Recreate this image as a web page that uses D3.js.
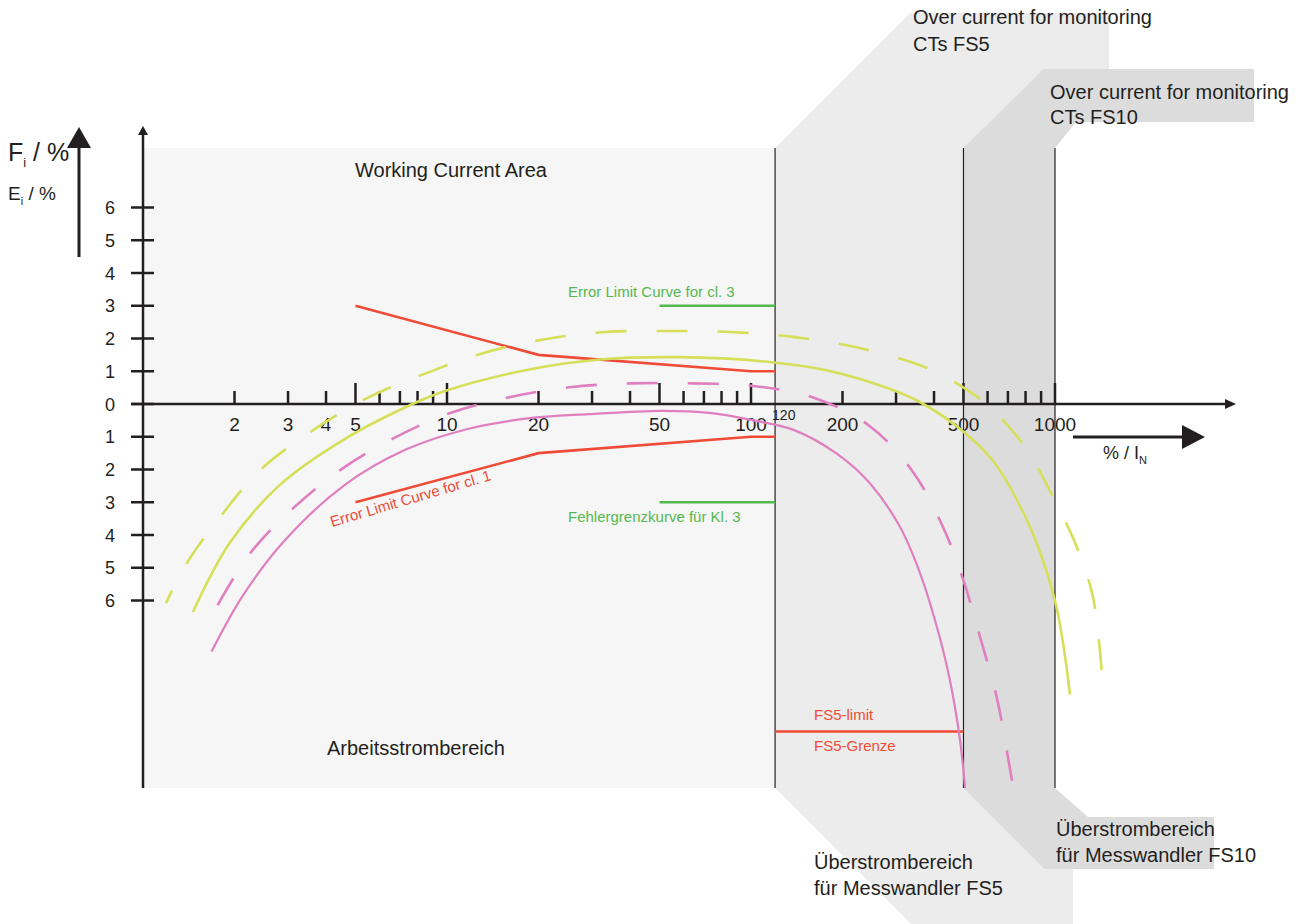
<!DOCTYPE html>
<html><head><meta charset="utf-8">
<script src="https://cdn.jsdelivr.net/npm/d3@7"></script>
<style>
body{margin:0;background:#fff}
svg{display:block}
text{font-family:"Liberation Sans",Arial,Helvetica,sans-serif}
</style>
</head><body>
<svg id="c" width="1307" height="924"></svg>
<script>
// ---------- data ----------
const xLabelTicks = [2,3,4,5,10,20,50,100,200,500,1000];
const xLabelTexts = ["2","3","4","5","10","20","50","100","200","500","1000"];
const xTallTicks = [5,10,50,100,500,1000];
const xShortTicks = [2,3,4,6,7,8,9,20,30,40,60,70,80,90,200,300,400,600,700,800,900];
const yTicks = [6,5,4,3,2,1,0,-1,-2,-3,-4,-5,-6];
const yTickTexts = ["6","5","4","3","2","1","0","1","2","3","4","5","6"];
const bandEdges = [120,500,1000];
const cl1Current = [5,20,100,120];
const cl1Upper = [3,1.5,1,1];
const cl1Lower = [-3,-1.5,-1,-1];
const cl3Current = [50,120];
const cl3Upper = [3,3];
const cl3Lower = [-3,-3];
const fs5Current = [120,500];
const fs5Limit = [-10,-10];
// [current % of In, error %]
const yellowSolid = [[1.46,-6.35],[1.93,-4.24],[2.82,-2.47],[4.55,-1.1],[7.7,0],[9.85,0.4],[19,1.07],[32,1.36],[58,1.43],[113,1.29],[177,1.03],[294,0.42],[369,0],[499,-0.84],[627,-1.75],[767,-3.11],[893,-4.52],[1002,-6.04],[1065,-7.35],[1120,-8.87]];
const yellowDashed = [[1.19,-6.08],[1.395,-4.85],[1.846,-3.3],[2.426,-2.02],[3.68,-0.76],[5.54,0.21],[8.6,0.95],[13.2,1.56],[21,1.98],[33.3,2.2],[53.3,2.23],[85.3,2.2],[137,2.05],[228,1.71],[379,1.1],[514,0.43],[625,-0.18],[809,-1.4],[985,-2.84],[1180,-4.37],[1333,-5.89],[1428,-8.27]];
const pinkSolid = [[1.68,-7.56],[2.12,-5.88],[2.89,-4.22],[4.58,-2.49],[7.29,-1.4],[11.6,-0.77],[18.4,-0.44],[29.3,-0.31],[51,-0.21],[74,-0.28],[107,-0.54],[138,-0.79],[191,-1.51],[246,-2.42],[309,-3.75],[360,-5.17],[408,-6.78],[451,-8.43],[487,-10.26],[506,-11.73]];
const pinkDashed = [[1.76,-6.14],[2.25,-4.56],[3.12,-3.18],[4.45,-2.02],[6.66,-1.05],[10.2,-0.28],[15.9,0.2],[25.3,0.51],[40,0.63],[63.8,0.63],[102,0.55],[160,0.2],[243,-0.64],[338,-2.02],[424,-3.67],[499,-5.37],[567,-7.12],[643,-8.95],[702,-10.84],[729,-11.73]];

// ---------- styles ----------
const INK = "#231f20", YEL = "#d6df5a", PINK = "#df7fc0", RED = "#ef4b36", GREEN = "#55b84f";
const svg = d3.select("#c");
const x = d3.scaleLog().domain([1,1000]).range([143,1055]);
const y = d3.scaleLinear().domain([0,6]).range([404,207.5]);
const plotTop = 148, plotBottom = 788;
const x0 = x(bandEdges[0]), x1 = x(bandEdges[1]), x2 = x(bandEdges[2]);

// ---------- areas ----------
svg.append("rect").attr("x",143).attr("y",plotTop).attr("width",x0-143).attr("height",plotBottom-plotTop).attr("fill","#f6f6f6");
svg.append("polygon").attr("fill","#ececec").attr("points",[
 [x0,plotTop],[x0+135,13],[1109,13],[1109,69],[x1,plotTop],[x1,plotBottom],[1073,862],[1073,924],[x0+136,924],[x0,plotBottom]
].map(p=>p.join(",")).join(" "));
svg.append("polygon").attr("fill","#dcdcdd").attr("points",[
 [x1,plotTop],[x1+80,69],[1254,69],[1254,122],[1076,122],[x2,plotTop],[x2,plotBottom],[1088,817],[1214,817],[1214,869],[x1+81,869],[x1,plotBottom]
].map(p=>p.join(",")).join(" "));
bandEdges.forEach(v=>svg.append("line").attr("x1",x(v)).attr("x2",x(v)).attr("y1",plotTop).attr("y2",plotBottom).attr("stroke",INK).attr("stroke-width",1.2));

// ---------- axes ----------
const ax = svg.append("g").attr("stroke",INK).attr("stroke-width",2.5);
ax.append("line").attr("x1",143).attr("x2",143).attr("y1",plotBottom).attr("y2",133);
ax.append("line").attr("x1",131).attr("x2",1228).attr("y1",y(0)).attr("y2",y(0));
svg.append("polygon").attr("fill",INK).attr("points","138,135 148,135 143,126");
svg.append("polygon").attr("fill",INK).attr("points","1225,399 1225,409 1236,404");
yTicks.forEach(v=>ax.append("line").attr("x1",131).attr("x2",154).attr("y1",y(v)).attr("y2",y(v)));
xShortTicks.forEach(v=>ax.append("line").attr("x1",x(v)).attr("x2",x(v)).attr("y1",y(0)).attr("y2",y(0)-13));
xTallTicks.forEach(v=>ax.append("line").attr("x1",x(v)).attr("x2",x(v)).attr("y1",y(0)).attr("y2",y(0)-21));
yTicks.forEach((v,i)=>svg.append("text").attr("x",115).attr("y",y(v)+6.5).attr("text-anchor","end").attr("font-size",18).attr("fill",INK).text(yTickTexts[i]));
xLabelTicks.forEach((v,i)=>svg.append("text").attr("x",x(v)).attr("y",431).attr("text-anchor","middle").attr("font-size",19).attr("fill",INK).text(xLabelTexts[i]));
svg.append("text").attr("x",x0-3).attr("y",420).attr("font-size",14).attr("fill",INK).text("120");

// big arrows
svg.append("line").attr("x1",79).attr("x2",79).attr("y1",257).attr("y2",146).attr("stroke",INK).attr("stroke-width",3);
svg.append("polygon").attr("fill",INK).attr("points","67,148 91,148 79,127");
svg.append("line").attr("x1",1073).attr("x2",1185).attr("y1",437).attr("y2",437).attr("stroke",INK).attr("stroke-width",3);
svg.append("polygon").attr("fill",INK).attr("points","1182,425 1182,449 1205,437");

// axis titles
const t1 = svg.append("text").attr("x",8).attr("y",161).attr("font-size",25).attr("fill",INK);
t1.append("tspan").text("F");
t1.append("tspan").attr("font-size",13).attr("dy",6).text("i");
t1.append("tspan").attr("dy",-6).text(" / %");
const t2 = svg.append("text").attr("x",8).attr("y",200).attr("font-size",19).attr("fill",INK);
t2.append("tspan").text("E");
t2.append("tspan").attr("font-size",11).attr("dy",5).text("i");
t2.append("tspan").attr("dy",-5).text(" / %");
const t3 = svg.append("text").attr("x",1103).attr("y",459).attr("font-size",18).attr("fill",INK);
t3.append("tspan").text("% / I");
t3.append("tspan").attr("font-size",11).attr("dy",5).text("N");

// ---------- limit lines ----------
const line = d3.line().x(d=>x(d[0])).y(d=>y(d[1]));
const seg = (xs,ys)=>xs.map((v,i)=>[v,ys[i]]);
[[cl1Current,cl1Upper,RED],[cl1Current,cl1Lower,RED],[cl3Current,cl3Upper,GREEN],[cl3Current,cl3Lower,GREEN],[fs5Current,fs5Limit,RED]]
 .forEach(([xs,ys,c])=>svg.append("path").attr("d",line(seg(xs,ys))).attr("fill","none").attr("stroke",c).attr("stroke-width",2.6));

// ---------- curves ----------
const curve = d3.line().x(d=>x(d[0])).y(d=>y(d[1])).curve(d3.curveCatmullRom.alpha(0.5));
svg.append("path").attr("d",curve(yellowDashed)).attr("fill","none").attr("stroke",YEL).attr("stroke-width",2.6).attr("stroke-dasharray","31,30").attr("stroke-dashoffset",17);
svg.append("path").attr("d",curve(yellowSolid)).attr("fill","none").attr("stroke",YEL).attr("stroke-width",2.6);
svg.append("path").attr("d",curve(pinkDashed)).attr("fill","none").attr("stroke",PINK).attr("stroke-width",2.6).attr("stroke-dasharray","31,30");
svg.append("path").attr("d",curve(pinkSolid)).attr("fill","none").attr("stroke",PINK).attr("stroke-width",2.2);

// ---------- labels ----------
const lab = (tx,xx,yy,fs,c)=>svg.append("text").attr("x",xx).attr("y",yy).attr("font-size",fs).attr("fill",c).text(tx);
lab("Working Current Area",355,177,20,INK);
lab("Arbeitsstrombereich",327,755,20,INK);
lab("Over current for monitoring",913,24,20,INK);
lab("CTs FS5",913,51,20,INK);
lab("Over current for monitoring",1050,99,20,INK);
lab("CTs FS10",1050,124,20,INK);
lab("Überstrombereich",1056,836,20,INK);
lab("für Messwandler FS10",1056,862,20,INK);
lab("Überstrombereich",814,869,20,INK);
lab("für Messwandler FS5",814,895,20,INK);
lab("Error Limit Curve for cl. 3",568,297,15,GREEN);
lab("Fehlergrenzkurve für Kl. 3",568,522,15,GREEN);
lab("FS5-limit",814,720,15,RED);
lab("FS5-Grenze",814,751,15,RED);
svg.append("text").attr("transform","translate(332,527) rotate(-16.4)").attr("font-size",15).attr("fill",RED).text("Error Limit Curve for cl. 1");
</script>
</body></html>
